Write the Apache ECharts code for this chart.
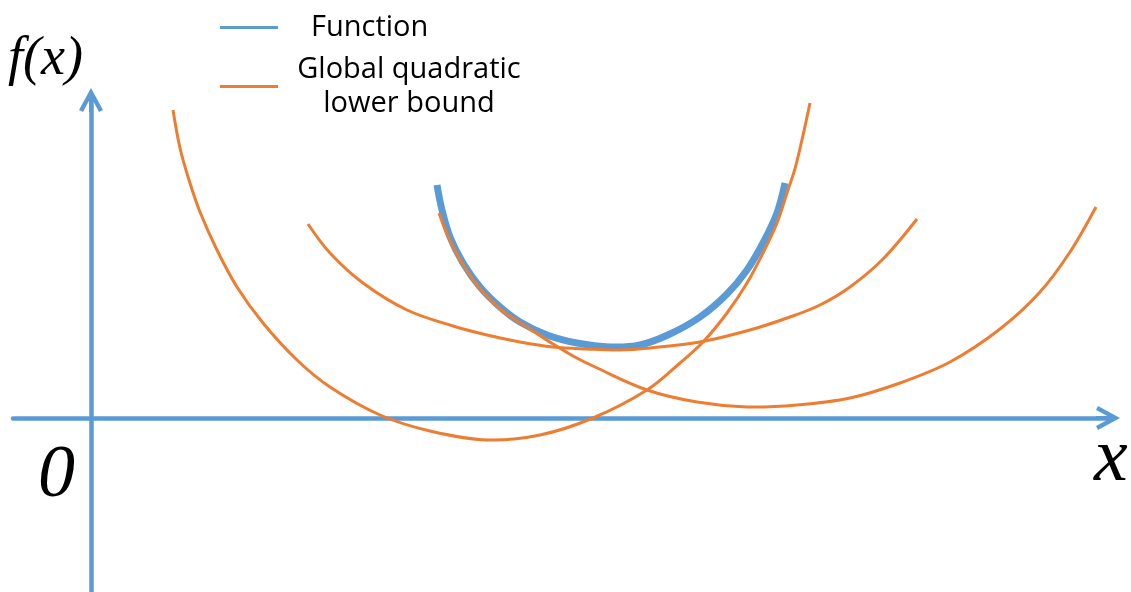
<!DOCTYPE html>
<html>
<head>
<meta charset="utf-8">
<title>Global quadratic lower bound</title>
<script src="https://cdn.jsdelivr.net/npm/echarts@6.0.0/dist/echarts.min.js"></script>
<style>
    html, body { margin: 0; padding: 0; background: #fff; }
    #chart { width: 1131px; height: 592px; }
</style>
</head>
<body>
<div id="chart"></div>
<script type="text/javascript">
    // points, origin at the axis crossing
    var funcX = [3.46, 3.51, 3.59, 3.72, 3.89, 4.09, 4.29, 4.56, 4.86, 5.19, 5.49, 5.79, 6.09, 6.36, 6.56, 6.72, 6.86, 6.94];
    var funcY = [2.33, 2.08, 1.81, 1.55, 1.31, 1.11, 0.96, 0.83, 0.75, 0.71, 0.73, 0.84, 1.01, 1.24, 1.48, 1.75, 2.05, 2.35];

    var boundAX = [0.82, 0.89, 0.98, 1.09, 1.26, 1.46, 1.72, 2.06, 2.39, 2.89, 3.39, 3.96, 4.49, 5.02, 5.56, 5.89, 6.12, 6.36, 6.56, 6.72, 6.86, 6.96, 7.05, 7.19];
    var boundAY = [3.08, 2.70, 2.38, 2.06, 1.68, 1.31, 0.95, 0.58, 0.31, 0.03, -0.13, -0.22, -0.17, 0.00, 0.28, 0.55, 0.76, 1.05, 1.35, 1.65, 1.95, 2.25, 2.53, 3.15];

    var boundBX = [2.17, 2.39, 2.72, 3.16, 3.62, 3.96, 4.29, 4.62, 4.96, 5.29, 5.59, 6.09, 6.59, 6.99, 7.29, 7.59, 7.92, 8.26];
    var boundBY = [1.94, 1.65, 1.35, 1.08, 0.92, 0.83, 0.76, 0.71, 0.69, 0.68, 0.70, 0.76, 0.88, 1.01, 1.13, 1.31, 1.59, 1.99];

    var boundCX = [3.48, 3.56, 3.68, 3.86, 4.09, 4.39, 4.62, 4.82, 5.04, 5.56, 6.06, 6.56, 7.06, 7.59, 8.09, 8.59, 9.09, 9.49, 9.79, 10.05];
    var boundCY = [2.05, 1.84, 1.60, 1.33, 1.09, 0.89, 0.74, 0.62, 0.51, 0.28, 0.16, 0.11, 0.13, 0.20, 0.35, 0.56, 0.89, 1.26, 1.66, 2.11];

    var seriesNames = ['Function', 'Global quadratic lower bound'];

    var blue = '#5b9bd5';
    var orange = '#ed7d31';
    var chevron = 'path://M12,0 L24,22 L20,24 L12,9 L4,24 L0,22 Z M10,4 L14,4 L14,24 L10,24 Z';

    function pairs(xs, ys) {
        return xs.map(function(x, i) {
            return [x, ys[i]];
        });
    }

    // one smooth polyline per curve, mapped through the axes with api.coord
    function curveSeries(name, xs, ys, color, width) {
        var pts = pairs(xs, ys);
        return {
            name: name,
            type: 'custom',
            coordinateSystem: 'cartesian2d',
            encode: { x: 0, y: 1 },
            itemStyle: { color: color },
            data: pts,
            renderItem: function(params, api) {
                if (params.dataIndex !== 0) {
                    return;
                }
                return {
                    type: 'polyline',
                    shape: {
                        points: pts.map(function(p) { return api.coord(p); }),
                        smooth: 0.35
                    },
                    style: { fill: null, stroke: color, lineWidth: width }
                };
            }
        };
    }

    var myChart = echarts.init(document.getElementById('chart'));

    var option = {
        animation: false,
        grid: { left: 13, right: 23, top: 100, bottom: 0 },
        legend: {
            orient: 'vertical',
            left: 220,
            top: 13,
            padding: 0,
            itemGap: 13,
            itemWidth: 58,
            itemHeight: 14,
            icon: 'path://M0,0 L58,0 L58,3 L0,3 Z',
            data: seriesNames,
            formatter: function(name) {
                if (name === seriesNames[0]) {
                    return '{f|Function}';
                }
                return '{g|Global quadratic}\n{g|lower bound}';
            },
            textStyle: {
                color: '#000',
                fontFamily: 'Open Sans',
                fontSize: 29,
                rich: {
                    f: { fontFamily: 'Open Sans', fontSize: 29, lineHeight: 34, padding: [0, 0, 0, 28], color: '#000' },
                    g: { fontFamily: 'Open Sans', fontSize: 29, lineHeight: 34, width: 252, align: 'center', color: '#000' }
                }
            }
        },
        xAxis: {
            type: 'value',
            min: -0.78,
            max: 10.17,
            axisLine: {
                onZero: true,
                symbol: ['none', chevron],
                symbolSize: [24, 24],
                lineStyle: { color: blue, width: 4.5 }
            },
            axisTick: { show: false },
            axisLabel: { show: false },
            splitLine: { show: false }
        },
        yAxis: {
            type: 'value',
            min: -1.74,
            max: 3.18,
            axisLine: {
                show: true,
                onZero: true,
                symbol: ['none', chevron],
                symbolSize: [24, 24],
                lineStyle: { color: blue, width: 4.5 }
            },
            axisTick: { show: false },
            axisLabel: { show: false },
            splitLine: { show: false }
        },
        graphic: [
            {
                type: 'text',
                left: 8,
                top: 33,
                style: { text: 'f(x)', fontFamily: 'Liberation Serif', fontStyle: 'italic', fontSize: 54, fill: '#000' }
            },
            {
                type: 'text',
                left: 38,
                top: 440,
                style: { text: '0', fontFamily: 'Liberation Serif', fontStyle: 'italic', fontSize: 74, fill: '#000' }
            },
            {
                type: 'text',
                left: 1094,
                top: 422,
                style: { text: 'x', fontFamily: 'Liberation Serif', fontStyle: 'italic', fontSize: 76, fill: '#000' }
            }
        ],
        series: [
            curveSeries(seriesNames[0], funcX, funcY, blue, 7),
            curveSeries(seriesNames[1], boundAX, boundAY, orange, 3),
            curveSeries(seriesNames[1], boundBX, boundBY, orange, 3),
            curveSeries(seriesNames[1], boundCX, boundCY, orange, 3)
        ]
    };
    myChart.setOption(option);
</script>
</body>
</html>
